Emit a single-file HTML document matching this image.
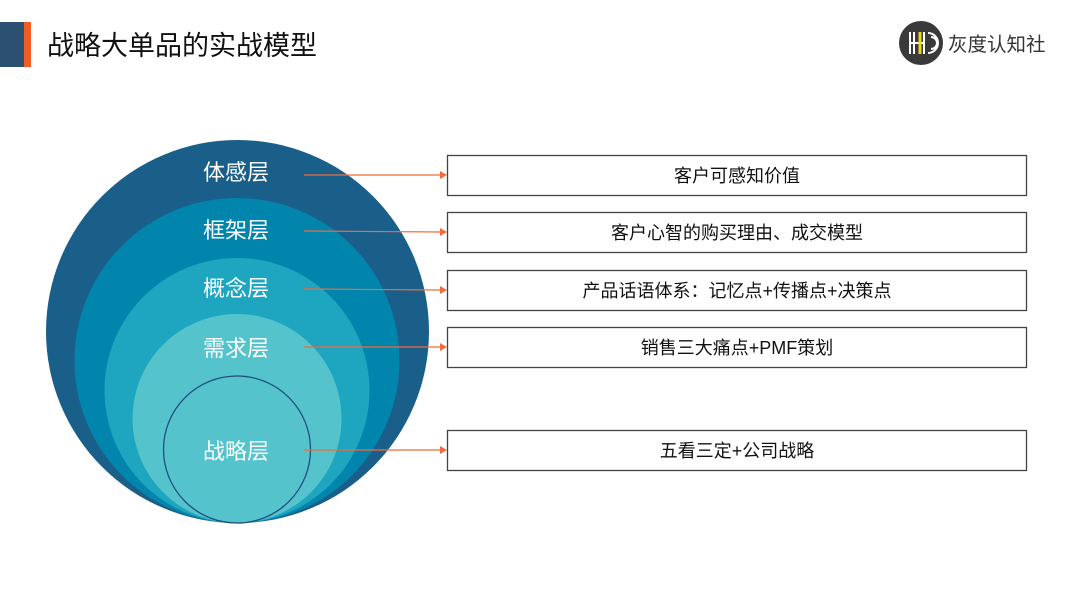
<!DOCTYPE html>
<html><head><meta charset="utf-8"><style>
body{margin:0;width:1080px;height:607px;background:#fff;overflow:hidden;font-family:"Liberation Sans","Noto Sans CJK SC",sans-serif;}
svg{position:absolute;left:0;top:0}
</style></head><body>
<svg width="1080" height="607" viewBox="0 0 1080 607">
<rect x="0" y="22" width="24" height="45" fill="#2c5070"/>
<rect x="24" y="22" width="7" height="45" fill="#f25c22"/>
<text x="47" y="55" font-size="27" fill="#111" font-family="Liberation Sans, Noto Sans CJK SC, sans-serif">战略大单品的实战模型</text>
<circle cx="921" cy="43" r="22" fill="#3a3a3a"/>
<g stroke="#fff" stroke-width="2" fill="none">
<line x1="910" y1="32" x2="910" y2="54"/><line x1="914" y1="32" x2="914" y2="54"/>
<line x1="910" y1="43" x2="924" y2="43"/><line x1="924" y1="32" x2="924" y2="54"/>
<path d="M928 33 A10 10 0 0 1 928 53"/><path d="M931 37 A6 6 0 0 1 931 49"/>
</g>
<line x1="920" y1="32" x2="920" y2="54" stroke="#e8d820" stroke-width="3"/>
<text x="948" y="51" font-size="19.5" fill="#333" font-family="Liberation Sans, Noto Sans CJK SC, sans-serif">灰度认知社</text>
<circle cx="237.5" cy="331.5" r="191.5" fill="#1a5f8a"/>
<circle cx="237" cy="360.5" r="162.5" fill="#0285ac"/>
<circle cx="237" cy="390.5" r="132.5" fill="#1ea5c0"/>
<circle cx="237" cy="418.5" r="104.5" fill="#54c3cc"/>
<circle cx="237" cy="449.5" r="73.5" fill="none" stroke="#1f4f80" stroke-width="1.3"/>
<g font-size="22" fill="#fff" text-anchor="middle" font-family="Liberation Sans, Noto Sans CJK SC, sans-serif">
<text x="236" y="180">体感层</text><text x="236" y="238">框架层</text><text x="236" y="296">概念层</text><text x="236" y="356">需求层</text><text x="236" y="459">战略层</text>
</g>
<g stroke="#f26b3a" stroke-width="1.2">
<line x1="304" y1="175" x2="440" y2="175"/><line x1="304" y1="231" x2="440" y2="232"/><line x1="304" y1="289" x2="440" y2="290"/><line x1="304" y1="347" x2="440" y2="347"/><line x1="304" y1="450" x2="440" y2="450"/>
</g>
<g fill="#f26b3a">
<path d="M440 171L447 175L440 179Z"/><path d="M440 228L447 232L440 236Z"/><path d="M440 286L447 290L440 294Z"/><path d="M440 343L447 347L440 351Z"/><path d="M440 446L447 450L440 454Z"/>
</g>
<g fill="#fff" stroke="#444" stroke-width="1.3">
<rect x="447.5" y="155.5" width="579" height="40"/><rect x="447.5" y="212.5" width="579" height="40"/><rect x="447.5" y="270.5" width="579" height="40"/><rect x="447.5" y="327.5" width="579" height="40"/><rect x="447.5" y="430.5" width="579" height="40"/>
</g>
<g font-size="18" fill="#111" text-anchor="middle" font-family="Liberation Sans, Noto Sans CJK SC, sans-serif">
<text x="737" y="182">客户可感知价值</text><text x="737" y="239">客户心智的购买理由、成交模型</text><text x="737" y="297">产品话语体系：记忆点+传播点+决策点</text><text x="737" y="354">销售三大痛点+PMF策划</text><text x="737" y="457">五看三定+公司战略</text>
</g>
</svg>
</body></html>
